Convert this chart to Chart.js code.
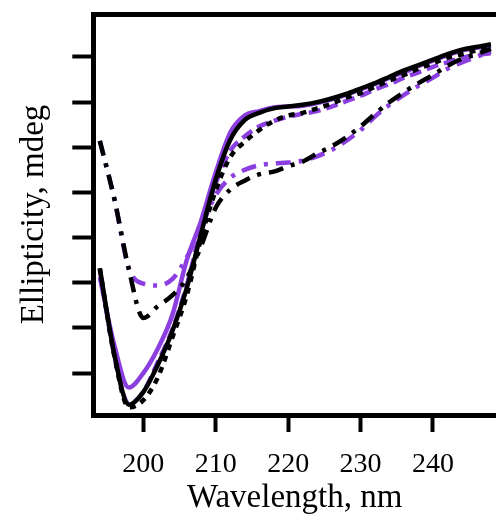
<!DOCTYPE html>
<html>
<head>
<meta charset="utf-8">
<script src="https://cdn.jsdelivr.net/npm/chart.js@4.4.1/dist/chart.umd.min.js"></script>
<style>
  html, body { margin: 0; padding: 0; background: #fff; }
  #wrap { width: 496px; height: 515px; }
</style>
</head>
<body>
<div id="wrap"><canvas id="canvas" width="496" height="515"></canvas></div>
<script>
// wavelength grid, nm
var wavelengths = [194, 196, 198, 200, 202, 204, 206, 208, 210, 212, 214, 216, 218, 220,
                   222, 224, 226, 228, 230, 232, 234, 236, 238, 240, 242, 244, 246, 248];

// ellipticity, mdeg
var blackSolid = [-23.4, -32.9, -38.5, -37.1, -34.1, -30.4, -25.6, -19.5, -13.6, -9.2, -7.0, -6.2, -5.7, -5.5,
                  -5.3, -5.0, -4.6, -4.1, -3.5, -2.9, -2.2, -1.5, -0.9, -0.3, 0.3, 0.8, 1.1, 1.4];
var purpleSolid = [-24.4, -31.9, -36.6, -35.0, -32.3, -28.6, -22.5, -18.1, -12.8, -8.4, -6.5, -6.0, -5.6, -5.5,
                   -5.4, -5.1, -4.7, -4.2, -3.6, -3.0, -2.3, -1.7, -1.0, -0.4, 0.2, 0.7, 1.0, 1.2];
var blackDotted = [-23.4, -33.1, -38.8, -38.0, -35.5, -31.1, -26.4, -20.0, -14.8, -11.1, -9.4, -8.1, -7.1, -6.5,
                   -6.2, -5.7, -5.2, -4.5, -4.0, -3.3, -2.6, -2.0, -1.3, -0.7, -0.1, 0.3, 0.7, 0.9];
var purpleDashed = [-23.6, -33.0, -38.4, -37.1, -33.8, -30.2, -25.3, -19.0, -14.0, -10.4, -8.8, -7.7, -7.1, -6.6,
                    -6.3, -6.0, -5.5, -4.9, -4.3, -3.6, -3.0, -2.3, -1.7, -1.1, -0.6, -0.1, 0.2, 0.4];
var blackDashDot = [-9.3, -15.7, -23.5, -28.9, -27.6, -26.4, -24.5, -20.9, -16.7, -14.7, -13.7, -13.0, -12.7, -12.1,
                    -11.6, -10.7, -9.9, -8.9, -7.7, -6.3, -5.0, -3.9, -2.9, -2.0, -1.0, -0.2, 0.3, 0.9];
var purpleDashDot = [-9.3, -15.7, -23.4, -25.1, -25.3, -24.6, -22.2, -18.8, -15.3, -13.4, -12.5, -12.0, -11.8, -11.7,
                     -11.5, -11.0, -10.3, -9.3, -8.1, -6.6, -5.3, -4.2, -3.2, -2.3, -1.3, -0.6, 0.0, 0.6];

var xTicks = [200, 210, 220, 230, 240];
var yTicks = [-35, -30, -25, -20, -15, -10, -5, 0];

var BLACK = '#000000';
var PURPLE = '#8c3fe0';

function pts(ys) {
    return wavelengths.map(function (w, i) { return {x: w, y: ys[i]}; });
}

function line(ys, color, dash, order) {
    return {
        data: pts(ys),
        borderColor: color,
        borderWidth: 4.5,
        borderDash: dash,
        borderCapStyle: 'butt',
        borderJoinStyle: 'round',
        pointRadius: 0,
        fill: false,
        cubicInterpolationMode: 'monotone',
        order: order
    };
}

var serif = 'Liberation Serif';

new Chart(document.getElementById('canvas').getContext('2d'), {
    type: 'line',
    data: {
        datasets: [
            line(blackSolid, BLACK, [], 1),
            line(blackDotted, BLACK, [6, 6], 1),
            line(blackDashDot, BLACK, [15, 8, 4, 8], 1),
            line(purpleSolid, PURPLE, [], 2),
            line(purpleDashed, PURPLE, [12, 6], 2),
            line(purpleDashDot, PURPLE, [15, 8, 4, 8], 2)
        ]
    },
    options: {
        responsive: false,
        animation: false,
        devicePixelRatio: 1,
        layout: {padding: {left: 16, top: 6, right: 0, bottom: 0}},
        plugins: {legend: {display: false}, tooltip: {enabled: false}},
        scales: {
            x: {
                type: 'linear',
                position: 'bottom',
                min: 193.1,
                max: 248.7,
                afterBuildTicks: function (scale) {
                    scale.ticks = xTicks.map(function (v) { return {value: v}; });
                },
                grid: {drawOnChartArea: false, drawTicks: true, tickLength: 17, tickWidth: 4, tickColor: BLACK},
                border: {display: true, width: 5, color: BLACK},
                ticks: {color: BLACK, font: {family: serif, size: 28, lineHeight: 1.0}, padding: 19, maxRotation: 0},
                title: {display: true, text: 'Wavelength, nm', color: BLACK,
                        font: {family: serif, size: 33, lineHeight: 1.0}, padding: {top: -16, bottom: 0}}
            },
            x2: {
                type: 'linear',
                position: 'top',
                min: 193.1,
                max: 248.7,
                grid: {display: false},
                border: {display: true, width: 5, color: BLACK},
                ticks: {display: false}
            },
            y: {
                type: 'linear',
                min: -39.64,
                max: 4.75,
                afterBuildTicks: function (scale) {
                    scale.ticks = yTicks.map(function (v) { return {value: v}; });
                },
                grid: {drawOnChartArea: false, drawTicks: true, tickLength: 21, tickWidth: 4, tickColor: BLACK},
                border: {display: true, width: 5, color: BLACK},
                ticks: {display: false},
                title: {display: true, text: 'Ellipticity, mdeg', color: BLACK,
                        font: {family: serif, size: 33, lineHeight: 1.1}, padding: {top: 0, bottom: 20}}
            }
        }
    }
});
</script>
</body>
</html>
